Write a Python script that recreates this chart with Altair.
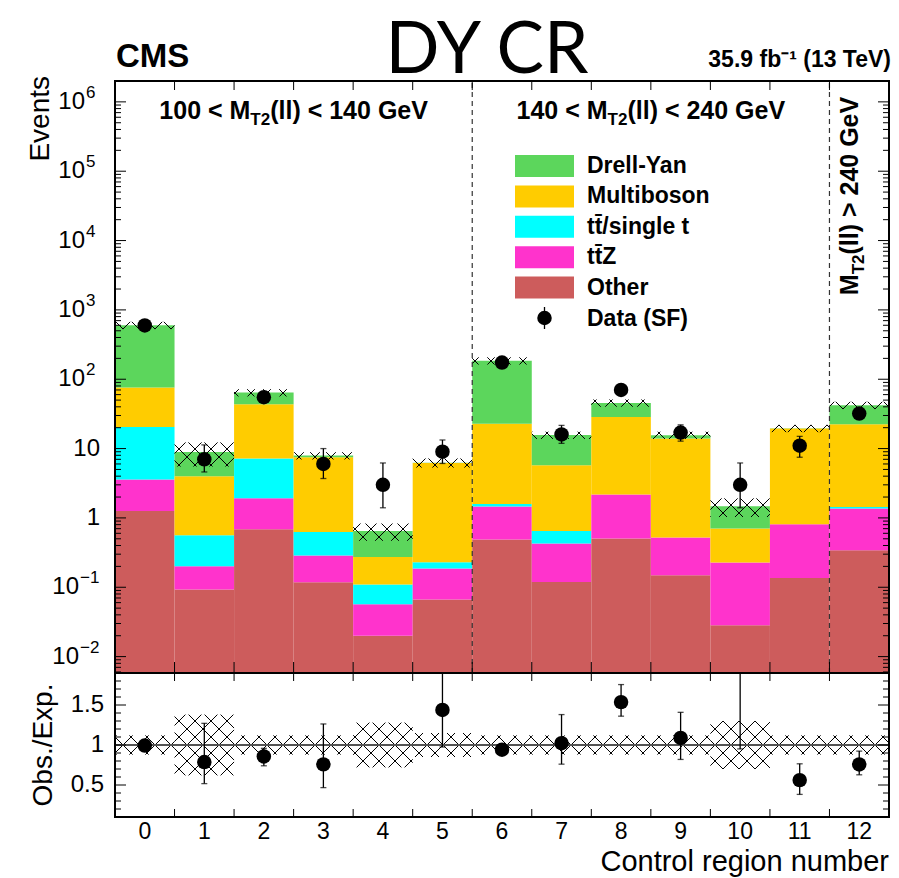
import math
import altair as alt
import pandas as pd

# ---------------- yields per control region ----------------
regions = list(range(13))
other      = [1.26, 0.0925, 0.686, 0.118, 0.0199, 0.0664, 0.487, 0.119, 0.504, 0.149, 0.0283, 0.136, 0.342]
ttz        = [2.31, 0.109, 1.23, 0.168, 0.037, 0.120, 0.97, 0.307, 1.67, 0.371, 0.199, 0.674, 1.02]
top_bkg    = [16.9, 0.361, 5.26, 0.342, 0.053, 0.043, 0.13, 0.223, 0.0, 0.0, 0.0, 0.0, 0.07]
multiboson = [55.3, 3.43, 36.4, 6.85, 0.164, 5.95, 21.3, 5.10, 26.4, 13.4, 0.475, 18.6, 21.0]
drell_yan  = [525.0, 4.9, 20.6, 0.44, 0.375, 0.08, 162.0, 9.9, 17.0, 1.7, 0.77, 0.2, 19.8]
data_obs   = [597, 7, 55, 6, 3, 9, 174, 16, 70, 17, 3, 11, 32]
data_lo    = [573, 4.6, 47.5, 3.7, 1.4, 6.1, 161, 11.9, 62, 12.8, 1.4, 7.5, 26.5]
data_hi    = [621, 11.3, 61.5, 10.0, 6.2, 13.3, 187, 21.6, 80, 22.0, 6.2, 15.0, 39.0]
mc_rel_unc = [0.12, 0.38, 0.12, 0.12, 0.28, 0.15, 0.12, 0.12, 0.12, 0.12, 0.30, 0.12, 0.12]

# stacking order, bottom to top
stack_names  = ["Other", "ttZ", "ttbar", "Multiboson", "Drell-Yan"]
stack_values = [other, ttz, top_bkg, multiboson, drell_yan]
stack_colors = ["#CD5C5C", "#FF33CC", "#00FFFF", "#FFCC00", "#5CD65C"]

# legend entries, top to bottom
legend_labels = ["Drell-Yan", "Multiboson", "tt\u0304/single t", "tt\u0304Z", "Other"]
legend_colors = ["#5CD65C", "#FFCC00", "#00FFFF", "#FF33CC", "#CD5C5C"]

y_major = [1e-2, 1e-1, 1, 10, 1e2, 1e3, 1e4, 1e5, 1e6]
y_base  = ["10", "10", "1", "10", "10", "10", "10", "10", "10"]
y_exp   = ["\u22122", "\u22121", "", "", "2", "3", "4", "5", "6"]
r_major = [0.5, 1.0, 1.5]
r_labels = ["0.5", "1", "1.5"]

# ---------------- layout ----------------
W, TOP_H, RAT_H = 774, 592, 144
H = TOP_H + RAT_H
XMIN, XMAX = -0.5, 12.5
YMIN, YMAX = 5.8e-3, 2.0e6
RMIN, RMAX = 0.1, 1.9
FONT = "Liberation Sans"

PX_X = W / (XMAX - XMIN)
PX_DEC = TOP_H / (math.log10(YMAX) - math.log10(YMIN))
PX_R = RAT_H / (RMAX - RMIN)
HATCH_P = 16.0

xs = alt.Scale(domain=[XMIN, XMAX], nice=False, zero=False)
ys_top = alt.Scale(type="log", domain=[YMIN, YMAX], range=[TOP_H, 0], nice=False)
ys_rat = alt.Scale(domain=[RMIN, RMAX], range=[H, TOP_H], nice=False, zero=False, clamp=True)


def X(f):
    return alt.X(f, scale=xs, axis=None)


def Yt(f):
    return alt.Y(f, scale=ys_top, axis=None)


def Yr(f):
    return alt.Y(f, scale=ys_rat, axis=None)


# ---------------- derived tables ----------------
stack_rows = []
totals = []
for i in regions:
    base = 0.0
    for name, vals in zip(stack_names, stack_values):
        top = base + vals[i]
        stack_rows.append(dict(x0=i - 0.5, x1=i + 0.5, lo=max(base, YMIN), hi=max(top, YMIN), proc=name))
        base = top
    totals.append(base)
stack_df = pd.DataFrame(stack_rows)

data_df = pd.DataFrame(dict(x=regions, n=data_obs, lo=data_lo, hi=data_hi, tot=totals))
data_df["r"] = data_df["n"] / data_df["tot"]
data_df["rlo"] = data_df["lo"] / data_df["tot"]
data_df["rhi"] = data_df["hi"] / data_df["tot"]


def hatch(X0, X1, Y0, Y1, period=HATCH_P):
    """Cross-hatch segments (+-45 deg in pixels) clipped to a rectangle."""
    segs = []
    k0, k1 = math.floor((X0 - Y1) / period), math.ceil((X1 - Y0) / period)
    for k in range(k0, k1 + 1):
        c = k * period
        a, b = max(X0, Y0 + c), min(X1, Y1 + c)
        if b - a > 0.3:
            segs.append((a, a - c, b, b - c))
    k0, k1 = math.floor((X0 + Y0) / period), math.ceil((X1 + Y1) / period)
    for k in range(k0, k1 + 1):
        c = k * period
        a, b = max(X0, c - Y1), min(X1, c - Y0)
        if b - a > 0.3:
            segs.append((a, c - a, b, c - b))
    return segs


lg0 = math.log10(YMIN)
top_h_rows, rat_h_rows = [], []
for i in regions:
    Xa, Xb = (i - 0.5 - XMIN) * PX_X, (i + 0.5 - XMIN) * PX_X
    u = mc_rel_unc[i]
    Ya = (math.log10(totals[i] * (1 - u)) - lg0) * PX_DEC
    Yb = (math.log10(totals[i] * (1 + u)) - lg0) * PX_DEC
    for (xa, ya, xb, yb) in hatch(Xa, Xb, Ya, Yb):
        top_h_rows.append(dict(x=xa / PX_X + XMIN, x2=xb / PX_X + XMIN,
                               y=10 ** (ya / PX_DEC + lg0), y2=10 ** (yb / PX_DEC + lg0)))
    Ya, Yb = (1 - u - RMIN) * PX_R, (1 + u - RMIN) * PX_R
    for (xa, ya, xb, yb) in hatch(Xa, Xb, Ya, Yb):
        rat_h_rows.append(dict(x=xa / PX_X + XMIN, x2=xb / PX_X + XMIN,
                               y=ya / PX_R + RMIN, y2=yb / PX_R + RMIN))
top_hatch_df = pd.DataFrame(top_h_rows)
rat_hatch_df = pd.DataFrame(rat_h_rows)

edges_df = pd.DataFrame(dict(x=[i + 0.5 for i in regions[:-1]]))
ymaj_df = pd.DataFrame(dict(v=y_major, base=y_base, exp=y_exp))
ymaj_df["bx"] = [-15 if e == "" else (-36 if e.startswith("\u2212") else -30) for e in y_exp]
ymaj_df["ex"] = ymaj_df["bx"] + 1
ymin_vals = [m * 10.0 ** k for k in range(-3, 7) for m in range(2, 10)]
ymin_df = pd.DataFrame(dict(v=[v for v in ymin_vals if YMIN < v < YMAX * 0.999]))
rmaj_df = pd.DataFrame(dict(v=r_major, t=r_labels))
rmin_df = pd.DataFrame(dict(v=[round(0.1 * k, 2) for k in range(2, 19) if k not in (5, 10, 15)]))

# ---------------- top panel ----------------
stack = alt.Chart(stack_df).mark_rect().encode(
    x=X("x0:Q"), x2="x1:Q", y=Yt("lo:Q"), y2="hi:Q",
    color=alt.Color("proc:N", scale=alt.Scale(domain=stack_names, range=stack_colors), legend=None),
)
t_hatch = alt.Chart(top_hatch_df).mark_rule(color="black", strokeWidth=1).encode(
    x=X("x:Q"), x2="x2:Q", y=Yt("y:Q"), y2="y2:Q")
dashes = alt.Chart(pd.DataFrame(dict(x=[5.5, 11.5], y=[YMIN, YMIN], y2=[YMAX, YMAX]))).mark_rule(
    color="#333333", strokeWidth=1.2, strokeDash=[5, 4]).encode(x=X("x:Q"), y=Yt("y:Q"), y2="y2:Q")
t_err = alt.Chart(data_df).mark_rule(color="black", strokeWidth=1.3).encode(
    x=X("x:Q"), y=Yt("lo:Q"), y2="hi:Q")
t_cap_lo = alt.Chart(data_df).mark_tick(orient="horizontal", size=6, thickness=1.3, color="black").encode(
    x=X("x:Q"), y=Yt("lo:Q"))
t_cap_hi = alt.Chart(data_df).mark_tick(orient="horizontal", size=6, thickness=1.3, color="black").encode(
    x=X("x:Q"), y=Yt("hi:Q"))
t_pts = alt.Chart(data_df).mark_point(shape="circle", filled=True, size=210, color="black", opacity=1).encode(
    x=X("x:Q"), y=Yt("n:Q"))
t_frame = alt.Chart(pd.DataFrame(dict(x=[XMIN], x2=[XMAX], y=[YMIN], y2=[YMAX]))).mark_rect(
    fillOpacity=0, stroke="black", strokeWidth=2).encode(x=X("x:Q"), x2="x2:Q", y=Yt("y:Q"), y2="y2:Q")
t_lmaj = alt.Chart(ymaj_df).mark_rule(color="black", strokeWidth=1).encode(
    y=Yt("v:Q"), x=alt.value(0), x2=alt.value(11))
t_rmaj = alt.Chart(ymaj_df).mark_rule(color="black", strokeWidth=1).encode(
    y=Yt("v:Q"), x=alt.value(W), x2=alt.value(W - 11))
t_lmin = alt.Chart(ymin_df).mark_rule(color="black", strokeWidth=1).encode(
    y=Yt("v:Q"), x=alt.value(0), x2=alt.value(6))
t_rmin = alt.Chart(ymin_df).mark_rule(color="black", strokeWidth=1).encode(
    y=Yt("v:Q"), x=alt.value(W), x2=alt.value(W - 6))
t_etop = alt.Chart(edges_df).mark_rule(color="black", strokeWidth=1).encode(
    x=X("x:Q"), y=alt.value(0), y2=alt.value(9))
t_ebot = alt.Chart(edges_df).mark_rule(color="black", strokeWidth=1).encode(
    x=X("x:Q"), y=alt.value(TOP_H), y2=alt.value(TOP_H - 11))
t_lab_base = alt.Chart(ymaj_df).mark_text(align="right", baseline="middle", font=FONT, fontSize=24).encode(
    y=Yt("v:Q"), x=alt.X("bx:Q", scale=None, axis=None), text="base:N")
t_lab_exp = alt.Chart(ymaj_df).mark_text(align="left", baseline="middle", font=FONT, fontSize=17, dy=-9).encode(
    y=Yt("v:Q"), x=alt.X("ex:Q", scale=None, axis=None), text="exp:N")

top_panel = alt.layer(stack, t_hatch, dashes, t_err, t_cap_lo, t_cap_hi, t_pts, t_lmaj, t_rmaj, t_lmin,
                      t_rmin, t_etop, t_ebot, t_frame, t_lab_base, t_lab_exp)

# ---------------- ratio panel ----------------
r_hatch = alt.Chart(rat_hatch_df).mark_rule(color="black", strokeWidth=1).encode(
    x=X("x:Q"), x2="x2:Q", y=Yr("y:Q"), y2="y2:Q")
r_one = alt.Chart(pd.DataFrame(dict(x=[XMIN], x2=[XMAX], y=[1.0]))).mark_rule(
    color="#555555", strokeWidth=2.2).encode(x=X("x:Q"), x2="x2:Q", y=Yr("y:Q"))
r_err = alt.Chart(data_df).mark_rule(color="black", strokeWidth=1.3).encode(
    x=X("x:Q"), y=Yr("rlo:Q"), y2="rhi:Q")
r_cap_lo = alt.Chart(data_df).transform_filter(alt.datum.rlo < RMAX).mark_tick(
    orient="horizontal", size=6, thickness=1.3, color="black").encode(x=X("x:Q"), y=Yr("rlo:Q"))
r_cap_hi = alt.Chart(data_df).transform_filter(alt.datum.rhi < RMAX).mark_tick(
    orient="horizontal", size=6, thickness=1.3, color="black").encode(x=X("x:Q"), y=Yr("rhi:Q"))
r_pts = alt.Chart(data_df).transform_filter(alt.datum.r < RMAX).mark_point(
    shape="circle", filled=True, size=210, color="black", opacity=1).encode(x=X("x:Q"), y=Yr("r:Q"))
r_frame = alt.Chart(pd.DataFrame(dict(x=[XMIN], x2=[XMAX], y=[RMIN], y2=[RMAX]))).mark_rect(
    fillOpacity=0, stroke="black", strokeWidth=2).encode(x=X("x:Q"), x2="x2:Q", y=Yr("y:Q"), y2="y2:Q")
r_lmaj = alt.Chart(rmaj_df).mark_rule(color="black", strokeWidth=1).encode(
    y=Yr("v:Q"), x=alt.value(0), x2=alt.value(11))
r_rmaj = alt.Chart(rmaj_df).mark_rule(color="black", strokeWidth=1).encode(
    y=Yr("v:Q"), x=alt.value(W), x2=alt.value(W - 11))
r_lmin = alt.Chart(rmin_df).mark_rule(color="black", strokeWidth=1).encode(
    y=Yr("v:Q"), x=alt.value(0), x2=alt.value(6))
r_rmin = alt.Chart(rmin_df).mark_rule(color="black", strokeWidth=1).encode(
    y=Yr("v:Q"), x=alt.value(W), x2=alt.value(W - 6))
r_etop = alt.Chart(edges_df).mark_rule(color="black", strokeWidth=1).encode(
    x=X("x:Q"), y=alt.value(TOP_H), y2=alt.value(TOP_H + 8))
r_ebot = alt.Chart(edges_df).mark_rule(color="black", strokeWidth=1).encode(
    x=X("x:Q"), y=alt.value(H), y2=alt.value(H - 8))
r_lab = alt.Chart(rmaj_df).mark_text(align="right", baseline="middle", font=FONT, fontSize=24).encode(
    y=Yr("v:Q"), x=alt.value(-11), text="t:N")
x_lab = alt.Chart(pd.DataFrame(dict(x=regions, t=[str(i) for i in regions]))).mark_text(
    align="center", baseline="middle", font=FONT, fontSize=23).encode(
    x=X("x:Q"), y=alt.value(H + 15), text="t:N")

ratio_panel = alt.layer(r_hatch, r_one, r_err, r_cap_lo, r_cap_hi, r_pts, r_lmaj, r_rmaj, r_lmin, r_rmin,
                        r_etop, r_ebot, r_frame, r_lab, x_lab)


# ---------------- texts ----------------
def text(s, x, y, size, weight="normal", align="left", angle=0, font=FONT):
    return alt.Chart(pd.DataFrame(dict(t=[s]))).mark_text(
        align=align, baseline="alphabetic", font=font, fontSize=size, fontWeight=weight,
        angle=angle, color="black").encode(x=alt.value(x), y=alt.value(y), text="t:N")


BOLD_W = {"0": 556, "1": 556, "2": 556, "3": 556, "4": 556, "5": 556, "6": 556, "7": 556, "8": 556,
          "9": 556, " ": 278, "<": 584, ">": 584, "M": 833, "T": 611, "(": 333, ")": 333, "l": 278,
          "G": 778, "e": 556, "V": 667}


def bold_width(s, size):
    return sum(BOLD_W.get(c, 556) for c in s) * size / 1000.0


LAB_FS, SUB_FS = 25, 17


def mt2_label(lo, hi, cx, y):
    a, b = f"{lo} < M", f"(ll) < {hi} GeV"
    wa, ws, wb = bold_width(a, LAB_FS), bold_width("T2", SUB_FS), bold_width(b, LAB_FS)
    x0 = cx - (wa + ws + wb) / 2
    return [text(a, x0, y, LAB_FS, "bold"),
            text("T2", x0 + wa, y + 6, SUB_FS, "bold"),
            text(b, x0 + wa + ws, y, LAB_FS, "bold")]


def mt2_label_vertical(cy, xb):
    a, b = "M", "(ll) > 240 GeV"
    wa, ws, wb = bold_width(a, LAB_FS), bold_width("T2", SUB_FS), bold_width(b, LAB_FS)
    y0 = cy + (wa + ws + wb) / 2
    return [text(a, xb, y0, LAB_FS, "bold", angle=270),
            text("T2", xb + 6, y0 - wa, SUB_FS, "bold", angle=270),
            text(b, xb, y0 - wa - ws, LAB_FS, "bold", angle=270)]


texts = [
    text("CMS", 1, -14, 33, "bold"),
    text("DY CR", 372, -8, 71, "normal", align="center", font="Lato"),
    text("35.9 fb\u207b\u00b9 (13 TeV)", 776, -14, 23, "bold", align="right"),
    text("Events", -66, -5, 28, "normal", align="right", angle=270),
    text("Obs./Exp.", -63, (1.0 - RMIN) * -PX_R + H, 28, "normal", align="center", angle=270),
    text("Control region number", W, H + 54, 29, "normal", align="right"),
]
texts += mt2_label(100, 140, 3 * PX_X, 38)
texts += mt2_label(140, 240, 9 * PX_X, 38)
texts += mt2_label_vertical(115, 743)

# ---------------- legend ----------------
LEG_X0, LEG_X1, LEG_TX = 400, 459, 472
LEG_Y0, LEG_DY, LEG_SW = 85, 30.4, 22
leg_df = pd.DataFrame(dict(label=legend_labels, color=legend_colors))
leg_df["yc"] = [LEG_Y0 + i * LEG_DY for i in range(len(leg_df))]
leg_df["y0"] = leg_df["yc"] - LEG_SW / 2
leg_df["y1"] = leg_df["yc"] + LEG_SW / 2
leg_sw = alt.Chart(leg_df).mark_rect().encode(
    x=alt.value(LEG_X0), x2=alt.value(LEG_X1),
    y=alt.Y("y0:Q", scale=None, axis=None), y2="y1:Q",
    color=alt.Color("color:N", scale=None, legend=None))
leg_tx = alt.Chart(leg_df).mark_text(align="left", baseline="middle", font=FONT, fontSize=23,
                                     fontWeight="bold", color="black").encode(
    x=alt.value(LEG_TX), y=alt.Y("yc:Q", scale=None, axis=None), text="label:N")
data_row_y = LEG_Y0 + len(leg_df) * LEG_DY
leg_data = alt.Chart(pd.DataFrame(dict(y=[data_row_y]))).mark_point(
    shape="circle", filled=True, size=210, color="black", opacity=1).encode(
    x=alt.value((LEG_X0 + LEG_X1) / 2), y=alt.Y("y:Q", scale=None, axis=None))
leg_data_bar = alt.Chart(pd.DataFrame(dict(y=[data_row_y - 11], y2=[data_row_y + 11]))).mark_rule(
    color="black", strokeWidth=1.3).encode(
    x=alt.value((LEG_X0 + LEG_X1) / 2), y=alt.Y("y:Q", scale=None, axis=None), y2="y2:Q")
leg_data_tx = text("Data (SF)", LEG_TX, data_row_y + 8, 23, "bold")

overlay = alt.layer(leg_sw, leg_tx, leg_data_bar, leg_data, leg_data_tx, *texts)

chart = alt.layer(top_panel, ratio_panel, overlay).resolve_scale(
    y="independent", color="independent"
).properties(
    width=W, height=H,
    autosize=alt.AutoSizeParams(type="none"),
    padding={"left": 115, "top": 81, "right": 10, "bottom": 61},
).configure_view(stroke="transparent")

chart.save("out.html", embed_options={"renderer": "svg", "actions": False})
